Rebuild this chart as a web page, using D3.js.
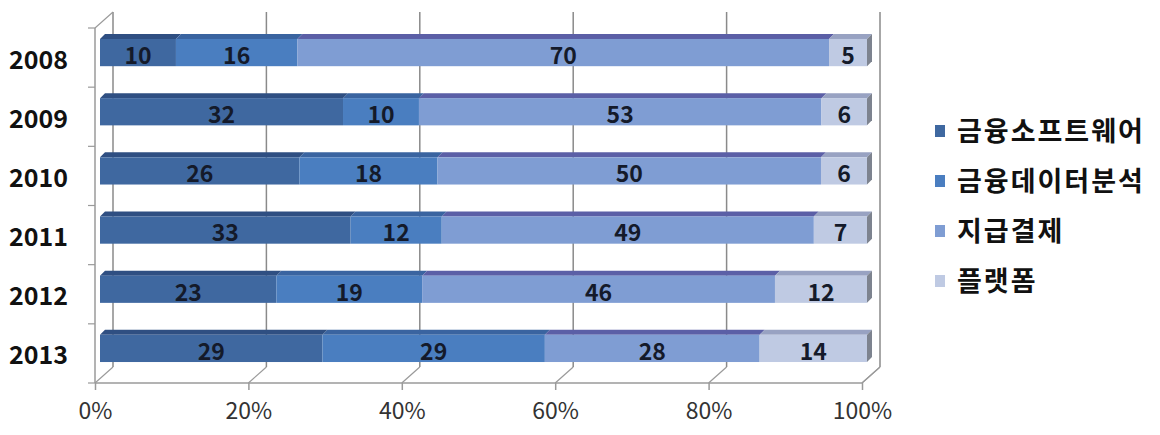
<!DOCTYPE html>
<html>
<head>
<meta charset="utf-8">
<script src="https://cdn.jsdelivr.net/npm/d3@7"></script>
<style>
  body { margin: 0; background: #fff; }
  svg text { font-family: "Noto Sans CJK KR", "DejaVu Sans", sans-serif; }
</style>
</head>
<body>
<svg id="chart" width="1160" height="435"></svg>
<script>
var years = ['2008', '2009', '2010', '2011', '2012', '2013'];
var seriesNames = ['금융소프트웨어', '금융데이터분석', '지급결제', '플랫폼'];
var software = [10, 32, 26, 33, 23, 29];
var dataAnalysis = [16, 10, 18, 12, 19, 29];
var payment = [70, 53, 50, 49, 46, 28];
var platform = [5, 6, 6, 7, 12, 14];
var tickValues = [0, 0.2, 0.4, 0.6, 0.8, 1];

var frontColors = ['#3f68a0', '#4a7ec0', '#7f9dd3', '#bfcae3'];
var topColors = ['#2f4f82', '#3a64a0', '#5b5fa6', '#98a2c2'];

var rows = years.map(function(yr, i) {
  return { year: yr, s0: software[i], s1: dataAnalysis[i], s2: payment[i], s3: platform[i] };
});
var stack = d3.stack().keys(['s0', 's1', 's2', 's3']).offset(d3.stackOffsetExpand);
var stacked = stack(rows);

var svg = d3.select('#chart');

// front plane of the plot
var pLeft = 95, pRight = 862, pTop = 28, pBottom = 383;
var dx = 18, dy = -16;     // depth offset of back wall
var bdx = 5, bdy = -5;     // bar front face offset
var tdx = 5, tdy = -5;     // bar top face depth

var xScale = d3.scaleLinear().domain([0, 1]).range([pLeft, pRight]);
var yBars = d3.scaleBand().domain(years).range([pTop, pBottom]).paddingInner(0.54).paddingOuter(0.27);
var yBand = d3.scaleBand().domain(years).range([pTop, pBottom]);

var grid = svg.append('g');

// back wall gridlines
grid.selectAll('line.v').data(tickValues).enter().append('line')
  .attr('x1', function(d) { return xScale(d) + dx; })
  .attr('x2', function(d) { return xScale(d) + dx; })
  .attr('y1', pTop + dy)
  .attr('y2', pBottom + dy)
  .attr('stroke', '#8a8a8a').attr('stroke-width', 1.5);

// floor diagonals
grid.selectAll('line.f').data(tickValues).enter().append('line')
  .attr('x1', function(d) { return xScale(d); })
  .attr('x2', function(d) { return xScale(d) + dx; })
  .attr('y1', pBottom)
  .attr('y2', pBottom + dy)
  .attr('stroke', '#9a9a9a').attr('stroke-width', 1.2);

// top-left diagonal
grid.append('line')
  .attr('x1', pLeft).attr('y1', pTop).attr('x2', pLeft + dx).attr('y2', pTop + dy)
  .attr('stroke', '#9a9a9a').attr('stroke-width', 1.2);

// front axes
grid.append('line')
  .attr('x1', pLeft).attr('x2', pLeft).attr('y1', pTop).attr('y2', pBottom)
  .attr('stroke', '#9a9a9a').attr('stroke-width', 1.5);
grid.append('line')
  .attr('x1', pLeft).attr('x2', pRight).attr('y1', pBottom).attr('y2', pBottom)
  .attr('stroke', '#9a9a9a').attr('stroke-width', 1.5);

// y axis minor ticks at band edges
grid.selectAll('line.yt').data(years.concat(['end'])).enter().append('line')
  .attr('x1', pLeft - 7).attr('x2', pLeft)
  .attr('y1', function(d, i) { return pTop + i * yBand.step(); })
  .attr('y2', function(d, i) { return pTop + i * yBand.step(); })
  .attr('stroke', '#9a9a9a').attr('stroke-width', 1.2);

// x axis
var xAxis = d3.axisBottom(xScale).tickValues(tickValues).tickFormat(d3.format('.0%')).tickSize(7).tickPadding(13);
var gx = svg.append('g').attr('transform', 'translate(0,' + pBottom + ')').call(xAxis);
gx.select('.domain').remove();
gx.selectAll('line').attr('stroke', '#9a9a9a').attr('stroke-width', 1.5);
gx.selectAll('text').attr('font-size', 23).attr('fill', '#333');

// year labels
svg.append('g').selectAll('text').data(years).enter().append('text')
  .attr('x', 68)
  .attr('y', function(d) { return yBand(d) + yBand.bandwidth() / 2 + 2; })
  .attr('dy', '0.36em')
  .attr('text-anchor', 'end')
  .attr('font-size', 25).attr('font-weight', 'bold').attr('fill', '#111')
  .text(function(d) { return d; });

// bars
var bars = svg.append('g');
var allSeries = [software, dataAnalysis, payment, platform];
stacked.forEach(function(layer, k) {
  var g = bars.append('g');
  layer.forEach(function(seg, i) {
    var yr = years[i];
    var x0 = xScale(seg[0]) + bdx, x1 = xScale(seg[1]) + bdx;
    var y0 = yBars(yr) + bdy, h = yBars.bandwidth();
    // top face
    g.append('path')
      .attr('d', 'M' + x0 + ',' + y0 + 'L' + (x0 + tdx) + ',' + (y0 + tdy) +
        'L' + (x1 + tdx) + ',' + (y0 + tdy) + 'L' + x1 + ',' + y0 + 'Z')
      .attr('fill', topColors[k]);
    // front face
    g.append('rect')
      .attr('x', x0).attr('y', y0).attr('width', x1 - x0).attr('height', h)
      .attr('fill', frontColors[k]);
    if (k === 3) {
      // right end face
      g.append('path')
        .attr('d', 'M' + x1 + ',' + y0 + 'L' + (x1 + tdx) + ',' + (y0 + tdy) +
          'L' + (x1 + tdx) + ',' + (y0 + tdy + h) + 'L' + x1 + ',' + (y0 + h) + 'Z')
        .attr('fill', '#7d838f');
    }
    g.append('text')
      .attr('x', (x0 + x1) / 2)
      .attr('y', y0 + h / 2 + 3)
      .attr('dy', '0.36em')
      .attr('text-anchor', 'middle')
      .attr('font-size', 23).attr('font-weight', 'bold').attr('fill', '#141a2a')
      .text(allSeries[k][i]);
  });
});

// right floor edge
grid.append('line')
  .attr('x1', pRight).attr('y1', pBottom).attr('x2', pRight + dx).attr('y2', pBottom + dy)
  .attr('stroke', '#9a9a9a').attr('stroke-width', 1.2);

// legend
var legend = svg.append('g').attr('transform', 'translate(935,131)');
var item = legend.selectAll('g').data(seriesNames).enter().append('g')
  .attr('transform', function(d, i) { return 'translate(0,' + (i * 50) + ')'; });
item.append('rect')
  .attr('x', 0).attr('y', -6).attr('width', 10).attr('height', 12)
  .attr('fill', function(d, i) { return frontColors[i]; });
item.append('text')
  .attr('x', 22).attr('y', 0).attr('dy', '0.36em')
  .attr('font-size', 27).attr('letter-spacing', 2).attr('font-weight', 'bold').attr('fill', '#111')
  .text(function(d) { return d; });
</script>
</body>
</html>
